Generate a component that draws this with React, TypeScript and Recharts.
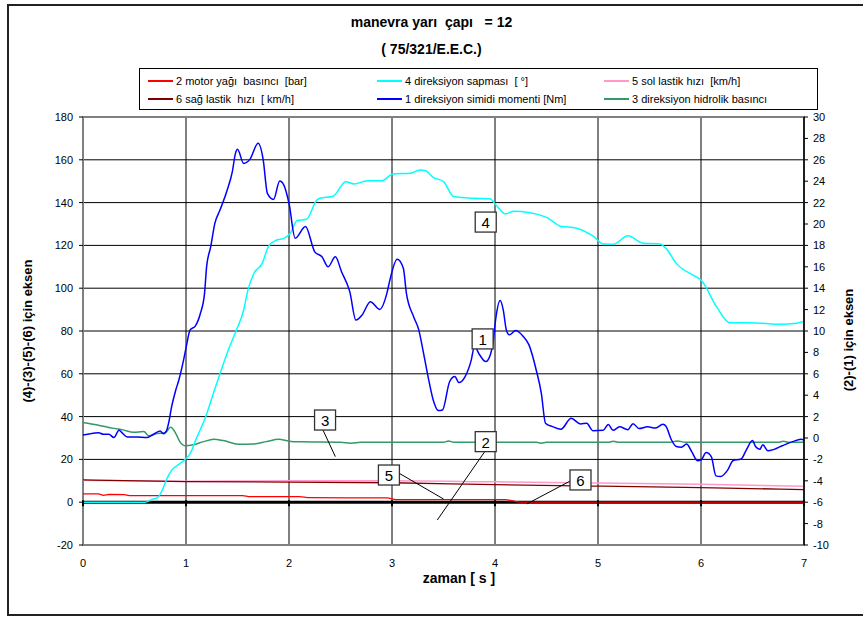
import React from 'react';
import {
  ComposedChart,
  Line,
  XAxis,
  YAxis,
  CartesianGrid,
  ReferenceLine,
  ReferenceArea,
  ReferenceDot,
} from 'recharts';

const FONT = '"Liberation Sans", Arial, Helvetica, sans-serif';

// ---- axes ----
const xTicks = [0, 1, 2, 3, 4, 5, 6, 7];
const leftTicks = [-20, 0, 20, 40, 60, 80, 100, 120, 140, 160, 180];
const rightTicks = [-10, -8, -6, -4, -2, 0, 2, 4, 6, 8, 10, 12, 14, 16, 18, 20, 22, 24, 26, 28, 30];

// ---- series 4: direksiyon sapması (left axis) ----
const tSapma = [0, 0.6, 0.67, 0.73, 0.775, 0.815, 0.86, 0.94, 1.0, 1.04, 1.1, 1.19, 1.27, 1.33, 1.41, 1.49, 1.56, 1.6, 1.66, 1.74, 1.8, 1.88, 1.95, 2.01, 2.08, 2.17, 2.27, 2.3, 2.43, 2.55, 2.63, 2.76, 2.9, 3.01, 3.18, 3.27, 3.32, 3.4, 3.5, 3.6, 3.79, 3.95, 4.01, 4.1, 4.18, 4.34, 4.5, 4.65, 4.76, 4.95, 5.05, 5.15, 5.29, 5.44, 5.6, 5.66, 5.76, 5.95, 6.0, 6.15, 6.28, 6.44, 6.6, 6.76, 6.93, 7.0];
const sapma = [0, 0, 1.3, 2.4, 6.3, 11, 14.9, 18, 20.4, 22.7, 29.7, 39.8, 51.5, 60, 71, 80.5, 89.8, 99, 107, 111.6, 119.4, 122.5, 123.3, 125.6, 131.6, 132.2, 141.2, 142, 143, 149.8, 148.7, 150.2, 150.2, 153.4, 153.7, 155.2, 155, 151.8, 149.8, 142.8, 142, 141.8, 138.9, 134.7, 135.9, 135.3, 133.1, 128.8, 128.4, 124.4, 120.7, 120.5, 124.5, 121, 120.7, 118.6, 111.6, 105.4, 103.8, 91.4, 83.9, 83.9, 83.6, 83.1, 83.6, 84.4];

// ---- series 1: direksiyon simidi momenti [Nm] (right axis) ----
const tMoment = [0, 0.1, 0.15, 0.2, 0.25, 0.3, 0.35, 0.38, 0.43, 0.52, 0.62, 0.67, 0.75, 0.78, 0.81, 0.83, 0.86, 0.9, 0.93, 0.97, 1.0, 1.04, 1.09, 1.14, 1.18, 1.2, 1.24, 1.28, 1.33, 1.4, 1.45, 1.48, 1.5, 1.56, 1.62, 1.7, 1.75, 1.79, 1.85, 1.91, 1.95, 2.0, 2.06, 2.16, 2.25, 2.32, 2.38, 2.45, 2.51, 2.59, 2.65, 2.71, 2.79, 2.88, 2.95, 2.98, 3.05, 3.11, 3.14, 3.21, 3.26, 3.3, 3.35, 3.4, 3.45, 3.49, 3.56, 3.61, 3.65, 3.71, 3.77, 3.8, 3.85, 3.91, 3.955, 3.98, 4.01, 4.05, 4.08, 4.11, 4.14, 4.2, 4.27, 4.33, 4.4, 4.45, 4.49, 4.56, 4.64, 4.74, 4.83, 4.89, 4.95, 5.05, 5.1, 5.145, 5.21, 5.29, 5.34, 5.4, 5.48, 5.56, 5.63, 5.66, 5.71, 5.76, 5.81, 5.86, 5.91, 5.965, 6.0, 6.05, 6.1, 6.145, 6.19, 6.26, 6.31, 6.39, 6.44, 6.5, 6.53, 6.57, 6.6, 6.65, 6.71, 6.79, 6.89, 6.97, 7.0];
const moment = [0.28, 0.44, 0.5, 0.34, 0.36, 0.04, 0.72, 0.48, 0.1, 0.1, 0.04, 0.26, 0.66, 0.4, 0.66, 1.34, 2.9, 4.46, 5.4, 7.0, 8.4, 10.1, 10.46, 11.66, 13.52, 16, 17.88, 20.06, 21.3, 23.18, 24.9, 26.6, 26.98, 25.66, 26.04, 27.54, 25.98, 22.86, 22.3, 24.02, 23.64, 21.94, 18.66, 19.76, 17.4, 16.94, 16, 16.94, 15.54, 13.68, 11.02, 11.5, 12.74, 12.02, 13.52, 14.78, 16.7, 15.86, 13.52, 11.34, 10.1, 8.24, 5.74, 3.56, 2.56, 2.62, 5.28, 5.74, 5.18, 5.74, 7.3, 8.56, 7.78, 7.14, 7.78, 8.86, 11.34, 12.84, 11.98, 10.1, 9.64, 10.04, 9.54, 8.7, 6.36, 4.18, 1.38, 1.06, 0.82, 1.84, 1.32, 1.38, 0.68, 0.72, 1.26, 0.72, 1.04, 0.78, 1.34, 0.88, 1.04, 0.94, 1.28, 1.1, -0.12, -0.8, -0.86, -0.56, -1.28, -2.12, -2.06, -1.36, -1.74, -3.54, -3.6, -2.98, -2.12, -1.96, -1.12, -0.24, -0.8, -1.06, -0.64, -1.2, -1.06, -0.72, -0.34, -0.12, -0.18];

// ---- series 3: direksiyon hidrolik basıncı (left axis) ----
const tHidrolik = [0, 0.14, 0.3, 0.39, 0.49, 0.59, 0.64, 0.7, 0.8, 0.85, 0.9, 0.94, 0.99, 1.07, 1.17, 1.27, 1.36, 1.51, 1.66, 1.78, 1.9, 2.0, 2.1, 2.5, 2.6, 2.7, 3.5, 3.55, 3.6, 4.4, 4.45, 4.5, 5.1, 5.15, 5.2, 5.7, 5.77, 5.85, 6.75, 6.8, 6.85, 7.0];
const hidrolik = [37.3, 36.1, 34.5, 33.8, 32.7, 33, 31, 31.9, 32.5, 35, 32.2, 28.3, 26.4, 26.8, 28.3, 29.4, 28.8, 27.1, 27.2, 28.3, 29.4, 28.5, 28.2, 28.0, 27.6, 28.0, 28.0, 28.6, 28.0, 28.0, 27.6, 28.0, 28.0, 28.5, 28.0, 28.0, 28.6, 28.0, 28.0, 28.5, 28.0, 28.0];

// ---- series 2: motor yağı basıncı [bar] (right axis) ----
const tYag = [0, 0.15, 0.2, 0.25, 0.4, 0.45, 1.55, 1.62, 2.1, 2.2, 2.95, 3.05, 4.1, 4.25, 7.0];
const yag = [-5.22, -5.22, -5.36, -5.28, -5.3, -5.38, -5.38, -5.48, -5.48, -5.58, -5.6, -5.76, -5.76, -6, -6];

// ---- series 5 / 6: lastik hızları [km/h] (left axis) ----
const tLastik = [0, 1, 2, 3, 4, 5, 6, 7];
const solLastik = [10.2, 9.8, 10.0, 10.0, 9.5, 9.0, 8.4, 7.4];
const sagLastik = [10.4, 9.6, 9.4, 9.1, 8.2, 7.5, 6.8, 5.9];

// ---- numbered callouts (data coordinates, left axis) ----
const calloutText = ['4', '1', '3', '5', '2', '6'];
const calloutT = [3.91, 3.88, 2.35, 2.97, 3.91, 4.83];
const calloutV = [130.9, 76.3, 38.4, 12.7, 28.3, 10.4];
const leaderFromT = [2.33, 3.07, 3.9, 4.73];
const leaderFromV = [33.7, 13.5, 23.6, 9.9];
const leaderToT = [2.45, 3.5, 3.44, 4.31];
const leaderToV = [21.3, 1.5, -8.3, -0.8];

const zip = (t: number[], v: number[]) => t.map((x, i) => ({ t: x, v: v[i] }));

const sapmaData = zip(tSapma, sapma);
const momentData = zip(tMoment, moment);
const hidrolikData = zip(tHidrolik, hidrolik);
const yagData = zip(tYag, yag);
const solData = zip(tLastik, solLastik);
const sagData = zip(tLastik, sagLastik);

const legendItems = [
  { label: '2 motor yağı  basıncı  [bar]', color: '#FF0000', col: 0, row: 0 },
  { label: '4 direksiyon sapması  [ °]', color: '#00FFFF', col: 1, row: 0 },
  { label: '5 sol lastik hızı  [km/h]', color: '#FF99CC', col: 2, row: 0 },
  { label: '6 sağ lastik  hızı  [ km/h]', color: '#800000', col: 0, row: 1 },
  { label: '1 direksiyon simidi momenti [Nm]', color: '#0000FF', col: 1, row: 1 },
  { label: '3 direksiyon hidrolik basıncı', color: '#339966', col: 2, row: 1 },
];
const legendColX = [8, 237, 464];

const CalloutBox = (label: string) => (props: any) => {
  const { cx, cy } = props;
  return (
    <g>
      <rect x={cx - 10.5} y={cy - 10} width={21} height={20} fill="#fff" stroke="#333" strokeWidth={1.3} />
      <text x={cx} y={cy + 6} textAnchor="middle" fontFamily={FONT} fontSize={15} fill="#000">
        {label}
      </text>
    </g>
  );
};

const AxisTickMark = (props: any) => {
  const { cx, cy } = props;
  return <line x1={cx} x2={cx} y1={cy - 2} y2={cy + 4} stroke="#000" strokeWidth={2} />;
};

export default function App() {
  return (
    <div style={{ position: 'absolute', left: 0, top: 0, width: 863, height: 619, background: '#fff', fontFamily: FONT }}>
      <ComposedChart width={863} height={619} margin={{ top: 117, right: 0, bottom: 44, left: 0 }}>
        <ReferenceLine yAxisId="left" y={0} stroke="#000" strokeWidth={3} />
        <CartesianGrid yAxisId="left" stroke="#000" strokeWidth={1} />
        <ReferenceArea yAxisId="left" x1={0} x2={7} y1={-20} y2={180} fill="none" stroke="#808080" strokeWidth={2} />
        <XAxis
          dataKey="t"
          type="number"
          domain={[0, 7]}
          ticks={xTicks}
          interval={0}
          allowDataOverflow
          axisLine={false}
          tickLine={false}
          tickSize={8}
          tickMargin={6}
          height={30}
          tick={{ fontSize: 11, fill: '#000', fontFamily: FONT }}
        />
        <YAxis
          yAxisId="left"
          orientation="left"
          width={83}
          domain={[-20, 180]}
          ticks={leftTicks}
          interval={0}
          allowDataOverflow
          axisLine={false}
          tickLine={{ stroke: '#000' }}
          tickSize={4}
          tickMargin={6}
          tick={{ fontSize: 11, fill: '#000', fontFamily: FONT }}
        />
        <YAxis
          yAxisId="right"
          orientation="right"
          width={59}
          domain={[-10, 30]}
          ticks={rightTicks}
          interval={0}
          allowDataOverflow
          axisLine={{ stroke: '#000', strokeWidth: 1.5 }}
          tickLine={{ stroke: '#000' }}
          tickSize={4}
          tickMargin={5}
          tick={{ fontSize: 11, fill: '#000', fontFamily: FONT }}
        />
        {xTicks.map((t) => (
          <ReferenceDot key={'tm' + t} yAxisId="left" x={t} y={0} shape={AxisTickMark} />
        ))}
        <Line yAxisId="left" data={solData} dataKey="v" type="monotone" stroke="#FF99CC" strokeWidth={1.5} dot={false} isAnimationActive={false} />
        <Line yAxisId="left" data={sagData} dataKey="v" type="monotone" stroke="#800000" strokeWidth={1.3} dot={false} isAnimationActive={false} />
        <Line yAxisId="right" data={yagData} dataKey="v" type="monotone" stroke="#FF0000" strokeWidth={1.3} dot={false} isAnimationActive={false} />
        <Line yAxisId="left" data={hidrolikData} dataKey="v" type="monotone" stroke="#339966" strokeWidth={1.5} dot={false} isAnimationActive={false} />
        <Line yAxisId="left" data={sapmaData} dataKey="v" type="monotone" stroke="#00FFFF" strokeWidth={1.5} dot={false} isAnimationActive={false} />
        <Line yAxisId="right" data={momentData} dataKey="v" type="monotone" stroke="#0000FF" strokeWidth={1.5} dot={false} isAnimationActive={false} />
        {leaderFromT.map((t, i) => (
          <ReferenceLine
            key={'ld' + i}
            yAxisId="left"
            segment={[
              { x: t, y: leaderFromV[i] },
              { x: leaderToT[i], y: leaderToV[i] },
            ]}
            stroke="#000"
            strokeWidth={1}
          />
        ))}
        {calloutText.map((c, i) => (
          <ReferenceDot key={'co' + i} yAxisId="left" x={calloutT[i]} y={calloutV[i]} shape={CalloutBox(c)} />
        ))}
      </ComposedChart>

      {/* outer frame */}
      <div style={{ position: 'absolute', left: 7, top: 4, width: 870, height: 612, borderTop: '2px solid #222', borderLeft: '2px solid #222', borderBottom: '2px solid #222', boxSizing: 'border-box', pointerEvents: 'none' }} />

      {/* titles */}
      <div style={{ position: 'absolute', left: 0, width: 863, top: 22, transform: 'translateY(-50%)', textAlign: 'center', fontWeight: 'bold', fontSize: 14, whiteSpace: 'pre' }}>
        {'manevra yarı  çapı   = 12'}
      </div>
      <div style={{ position: 'absolute', left: 0, width: 863, top: 49, transform: 'translateY(-50%)', textAlign: 'center', fontWeight: 'bold', fontSize: 14, whiteSpace: 'pre' }}>
        {'( 75/321/E.E.C.)'}
      </div>

      {/* legend */}
      <div style={{ position: 'absolute', left: 139, top: 68, width: 679, height: 42, border: '1px solid #000', boxSizing: 'border-box', background: '#fff' }}>
        {legendItems.map((it, i) => (
          <div key={i} style={{ position: 'absolute', left: legendColX[it.col], top: it.row === 0 ? 5 : 23, height: 14, display: 'flex', alignItems: 'center', whiteSpace: 'pre', fontSize: 11 }}>
            <div style={{ width: 25, height: 0, borderTop: `2px solid ${it.color}`, marginRight: 3 }} />
            <span>{it.label}</span>
          </div>
        ))}
      </div>

      {/* axis titles */}
      <div style={{ position: 'absolute', left: 27, top: 331, transform: 'translate(-50%, -50%) rotate(-90deg)', fontWeight: 'bold', fontSize: 13, whiteSpace: 'nowrap' }}>
        (4)-(3)-(5)-(6) için eksen
      </div>
      <div style={{ position: 'absolute', left: 848, top: 340, transform: 'translate(-50%, -50%) rotate(-90deg)', fontWeight: 'bold', fontSize: 13, whiteSpace: 'nowrap' }}>
        (2)-(1) için eksen
      </div>
      <div style={{ position: 'absolute', left: 459, top: 578, transform: 'translate(-50%, -50%)', fontWeight: 'bold', fontSize: 14, whiteSpace: 'pre' }}>
        {'zaman [ s ]'}
      </div>
    </div>
  );
}
